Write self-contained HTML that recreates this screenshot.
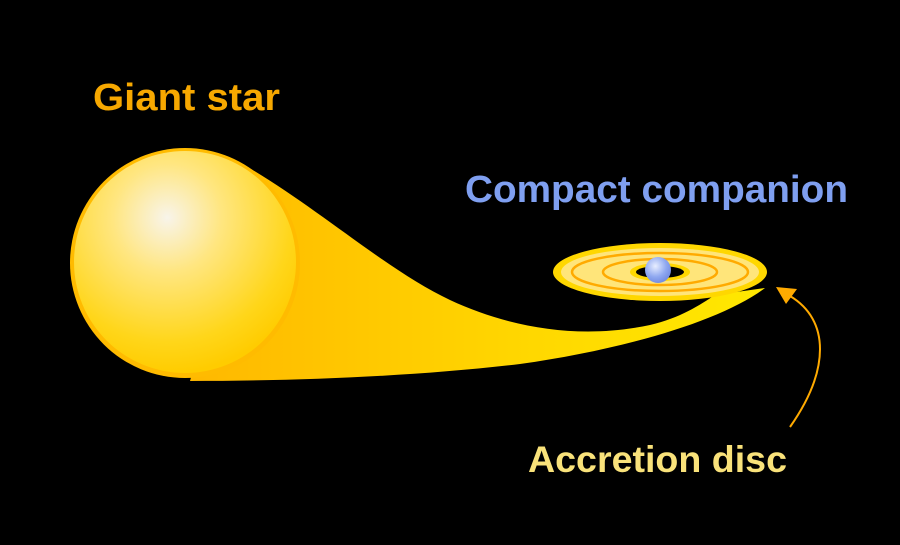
<!DOCTYPE html>
<html><head><style>
html,body{margin:0;padding:0;background:#000;width:900px;height:545px;overflow:hidden}
text{font-family:"Liberation Sans",sans-serif;font-weight:bold}
</style></head><body>
<svg width="900" height="545" viewBox="0 0 900 545" xmlns="http://www.w3.org/2000/svg">
<defs>
<linearGradient id="st" x1="0" y1="0" x2="1" y2="0">
<stop offset="0" stop-color="#ffb800"/><stop offset="0.6" stop-color="#ffd800"/><stop offset="1" stop-color="#ffe800"/>
</linearGradient>
<radialGradient id="sg" cx="0.42" cy="0.3" r="0.7">
<stop offset="0" stop-color="#f8f4ea"/><stop offset="0.35" stop-color="#ffe680"/><stop offset="0.8" stop-color="#ffd61a"/><stop offset="1" stop-color="#ffcc00"/>
</radialGradient>
<radialGradient id="bg" cx="0.4" cy="0.35" r="0.7">
<stop offset="0" stop-color="#e8eeff"/><stop offset="0.6" stop-color="#8fa8f0"/><stop offset="1" stop-color="#6f88e0"/>
</radialGradient>
</defs>
<text x="93" y="110" font-size="38" fill="#f7a800" textLength="187" lengthAdjust="spacingAndGlyphs">Giant star</text>
<text x="465" y="202" font-size="38" fill="#7f9ff0" textLength="383" lengthAdjust="spacingAndGlyphs">Compact companion</text>
<text x="528" y="472" font-size="37" fill="#f9e27a" textLength="259" lengthAdjust="spacingAndGlyphs">Accretion disc</text>
<path d="M251,169 C320,210 390,272 450,300 C510,328 580,340 650,325 C680,318 700,305 715,295 L765,288 C720,322 620,350 520,364 C420,376 300,381 190,381 Z" fill="url(#st)"/>
<circle cx="185" cy="263" r="115" fill="#ffbb00"/>
<circle cx="185" cy="262" r="111" fill="url(#sg)"/>
<ellipse cx="660" cy="272" rx="107" ry="29" fill="#ffd700"/>
<ellipse cx="660" cy="272" rx="99" ry="24" fill="#ffe57a"/>
<ellipse cx="660" cy="272" rx="88" ry="19" fill="none" stroke="#ffaa00" stroke-width="2.5"/>
<ellipse cx="660" cy="272" rx="57" ry="13" fill="none" stroke="#ffaa00" stroke-width="2.5"/>
<ellipse cx="660" cy="272" rx="30" ry="9" fill="#ffd700"/>
<ellipse cx="660" cy="272" rx="24" ry="6" fill="#000"/>
<circle cx="658" cy="270" r="13" fill="url(#bg)"/>
<path d="M790,427 C830,370 830,320 790,296" fill="none" stroke="#ffaa00" stroke-width="2"/>
<polygon points="776,287 797,289 786,304" fill="#ffaa00"/>
</svg>
</body></html>
